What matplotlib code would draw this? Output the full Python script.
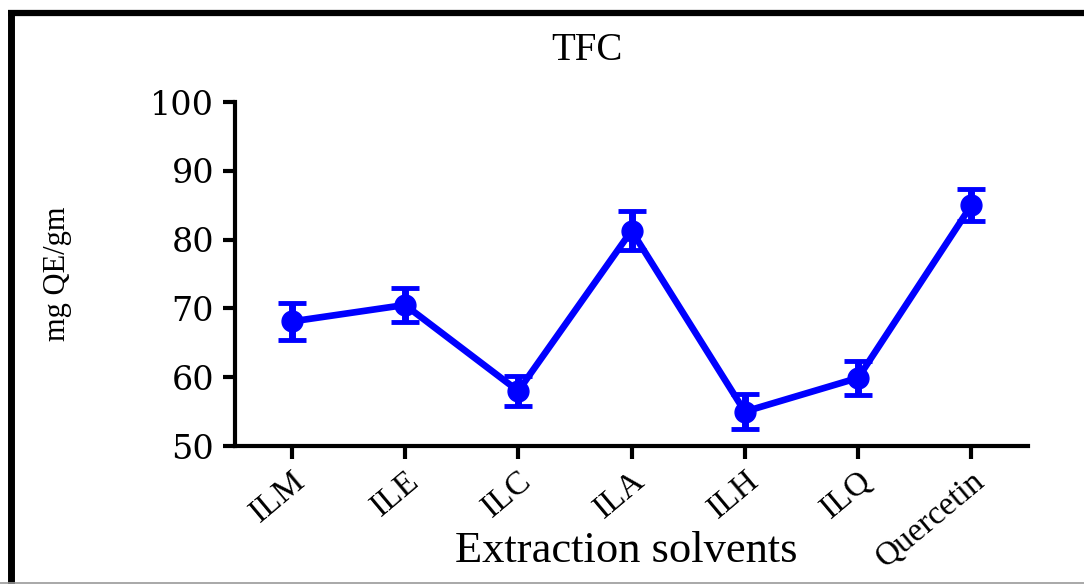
import matplotlib
matplotlib.use('Agg')
import matplotlib.pyplot as plt
from matplotlib.lines import Line2D
from matplotlib.transforms import ScaledTranslation

# TFC per extraction solvent (mg QE/gm), mean and SD
solvents = ['ILM', 'ILE', 'ILC', 'ILA', 'ILH', 'ILQ', 'Quercetin']
tfc_mean = [68.1, 70.5, 58.0, 81.3, 55.0, 59.9, 85.0]
tfc_sd = [2.7, 2.5, 2.2, 2.8, 2.5, 2.5, 2.3]
y_ticks = [50, 60, 70, 80, 90, 100]

serif = ['Liberation Serif', 'DejaVu Serif']
blue = '#0000FF'

fig = plt.figure(figsize=(10.84, 5.84), dpi=100)
ax = fig.add_axes([0.2168, 0.2363, 0.7316, 0.589])

x = list(range(len(solvents)))
ax.errorbar(x, tfc_mean, yerr=tfc_sd, color=blue, linewidth=4.8,
            marker='o', markersize=15, elinewidth=5, capsize=10,
            capthick=3.5, zorder=3)

ax.set_xlim(-0.5, len(solvents) - 0.5)
ax.set_ylim(50, 100)
ax.set_yticks(y_ticks)
ax.set_xticks(x)
ax.set_xticklabels(solvents, rotation=40, ha='right', rotation_mode='anchor',
                   family=serif, fontsize=24)
# shift tick labels a little to the right of their ticks
shift = ScaledTranslation(8 / 72, 0, fig.dpi_scale_trans)
for lbl in ax.get_xticklabels():
    lbl.set_transform(lbl.get_transform() + shift)
ax.set_yticklabels([str(v) for v in y_ticks], family=['DejaVu Serif'], fontsize=24)

for side in ('top', 'right'):
    ax.spines[side].set_visible(False)
for side in ('left', 'bottom'):
    ax.spines[side].set_linewidth(3)
ax.tick_params(axis='both', direction='out', length=9, width=3, color='black')
ax.tick_params(axis='x', pad=5)
ax.tick_params(axis='y', pad=6)

ax.set_ylabel('mg QE/gm', family=serif, fontsize=22, labelpad=0)
ax.yaxis.set_label_coords(-0.205, 0.5)

fig.text(0.541, 0.914, 'TFC', ha='center', va='center', family=serif, fontsize=28)
fig.text(0.578, 0.057, 'Extraction solvents', ha='center', va='center',
         family=serif, fontsize=32)

# frame around the figure
fig.add_artist(Line2D([0.0106, 0.0106], [0.0, 0.978], color='black', linewidth=5,
                      transform=fig.transFigure, solid_capstyle='butt'))
fig.add_artist(Line2D([0.0075, 1.0], [0.9777, 0.9777], color='black', linewidth=4.5,
                      transform=fig.transFigure, solid_capstyle='butt'))
fig.add_artist(Line2D([0.0, 1.0], [0.002, 0.002], color='#999999', linewidth=1.2,
                      transform=fig.transFigure))

fig.savefig('out.png', dpi=100)
